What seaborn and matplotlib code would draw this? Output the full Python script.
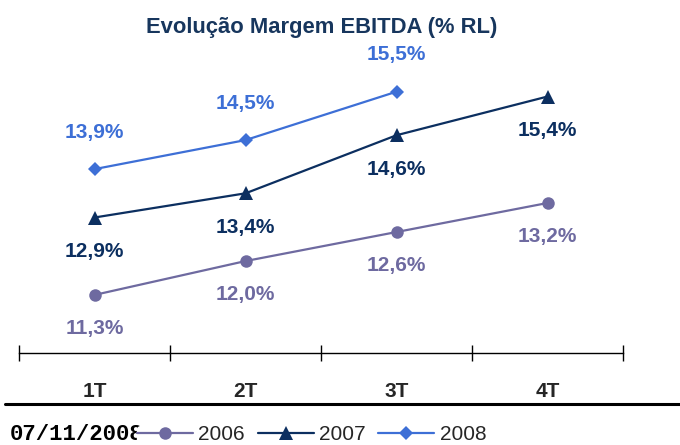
import pandas as pd
import matplotlib.pyplot as plt
import seaborn as sns
from matplotlib.lines import Line2D

# data
quarters = ["1T", "2T", "3T", "4T"]
years = ["2006", "2007", "2008"]
margin_2006 = [11.3, 12.0, 12.6, 13.2]
margin_2007 = [12.9, 13.4, 14.6, 15.4]
margin_2008 = [13.9, 14.5, 15.5]

title = "Evolução Margem EBITDA (% RL)"
date_text = "07/11/2008"

colors = {"2006": "#6e6aa0", "2007": "#0c2f60", "2008": "#3d6fd6"}
markers = {"2006": "o", "2007": "^", "2008": "D"}
msizes = {"2006": 9, "2007": 10, "2008": 7.5}
label_offset = {"2006": -24, "2007": -24.5, "2008": 26.5}  # points

rows = []
for yr, vals in zip(years, [margin_2006, margin_2007, margin_2008]):
    for q, v in zip(quarters, vals):
        rows.append({"Trimestre": q, "Ano": yr, "Margem": v})
df = pd.DataFrame(rows)
df["pos"] = df["Trimestre"].map({q: i for i, q in enumerate(quarters)})

sns.set_style("white")
plt.rcParams["font.family"] = ["Liberation Sans", "DejaVu Sans"]

fig = plt.figure(figsize=(6.8, 4.45), dpi=100)
ax = fig.add_axes([19 / 680, 1 - 353 / 445, 604 / 680, 293 / 445])

for yr in years:
    sub = df[df["Ano"] == yr]
    sns.lineplot(data=sub, x="pos", y="Margem", ax=ax, color=colors[yr],
                 marker=markers[yr], markersize=msizes[yr], markeredgewidth=0,
                 linewidth=1.6, label=yr, legend=False)
    for _, r in sub.iterrows():
        ax.annotate(f"{r['Margem']:.1f}%".replace(".", ","), (r["pos"], r["Margem"]),
                    xytext=(0, label_offset[yr]), textcoords="offset points",
                    ha="center", va="center", fontsize=15, fontweight="bold",
                    color=colors[yr])

ax.set_xlim(-0.5, len(quarters) - 0.5)
ax.set_ylim(10.10, 16.155)
for s in ["top", "right", "left"]:
    ax.spines[s].set_visible(False)
ax.spines["bottom"].set_color("black")
ax.spines["bottom"].set_linewidth(1)
ax.set_yticks([])
ax.set_xticks(range(len(quarters)))
ax.set_xticklabels(quarters, fontsize=15, fontweight="bold")
ax.set_xticks([i - 0.5 for i in range(len(quarters) + 1)], minor=True)
ax.tick_params(axis="x", which="major", bottom=True, length=0, pad=21)
ax.tick_params(axis="x", which="minor", bottom=True, direction="inout", length=12,
               width=1, color="black")
ax.set_xlabel("")
ax.set_ylabel("")

fig.text(0.473, 1 - 28 / 445, title, ha="center", va="center", fontsize=15.8,
         fontweight="bold", color="#17365d")

# separator line above the footer
fig.add_artist(Line2D([5 / 680, 1], [1 - 404 / 445, 1 - 404 / 445],
                      transform=fig.transFigure, color="black", linewidth=2.2))

fig.text(10 / 680, 1 - 434 / 445, date_text, ha="left", va="center", fontsize=16,
         fontweight="bold", family="Liberation Mono", color="black", zorder=1)

handles = [Line2D([], [], color=colors[yr], marker=markers[yr], markersize=msizes[yr],
                  markeredgewidth=0, linewidth=1.6) for yr in years]
leg = fig.legend(handles, years, loc="center left", bbox_to_anchor=(137 / 680, 1 - 435 / 445),
                 ncol=3, frameon=True, fontsize=15, handlelength=2.7, handletextpad=0.25,
                 columnspacing=0.6, borderpad=0, borderaxespad=0)
leg.get_frame().set_facecolor("white")
leg.get_frame().set_edgecolor("white")
leg.get_frame().set_alpha(1)
leg.set_zorder(5)

plt.savefig("out.png", dpi=100)
